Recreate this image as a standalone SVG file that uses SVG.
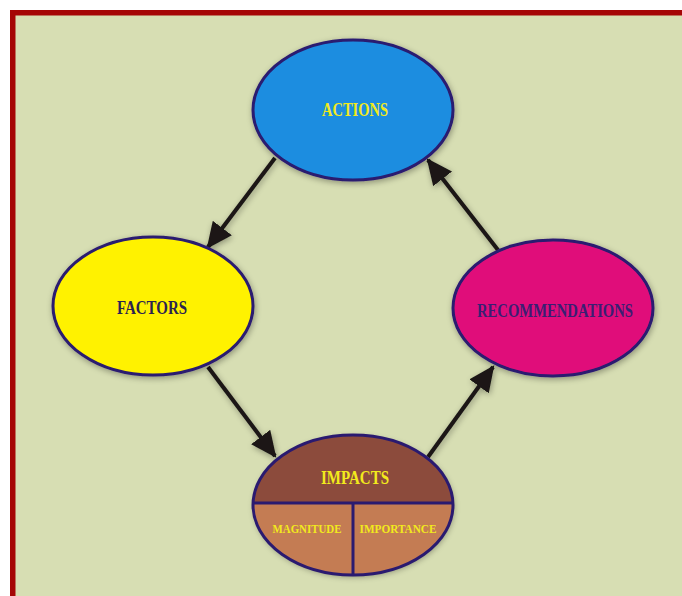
<svg xmlns="http://www.w3.org/2000/svg" width="682" height="596" viewBox="0 0 682 596">
<style>
.node{stroke:#2a1a70;stroke-width:3}
.lbl{font-family:"Liberation Serif","DejaVu Serif",serif;font-weight:bold;text-anchor:middle;dominant-baseline:central}
.conn{stroke:#1a1614;stroke-width:4;fill:none;marker-end:url(#ah)}
</style>
<defs>
<marker id="ah" markerUnits="userSpaceOnUse" markerWidth="26" markerHeight="24" refX="22" refY="11" orient="auto" viewBox="0 0 24 22">
<path d="M0,0 L24,11 L0,22 Z" fill="#1a1614"/>
</marker>
<filter id="sh" x="-20%" y="-20%" width="140%" height="140%">
<feGaussianBlur in="SourceAlpha" stdDeviation="3"/>
<feOffset dx="1" dy="2"/>
<feComponentTransfer><feFuncA type="linear" slope="0.35"/></feComponentTransfer>
<feMerge><feMergeNode/><feMergeNode in="SourceGraphic"/></feMerge>
</filter>
<clipPath id="impClip"><ellipse cx="353" cy="505" rx="100" ry="70"/></clipPath>
</defs>
<rect x="0" y="0" width="682" height="596" fill="#ffffff"/>
<rect x="10" y="10" width="680" height="600" fill="#a50606"/>
<rect x="15.5" y="15.5" width="680" height="600" fill="#d7deb3"/>

<g id="connectors" filter="url(#sh)">
<line class="conn" x1="275" y1="158" x2="208" y2="247"/>
<line class="conn" x1="208" y1="367" x2="275" y2="456"/>
<line class="conn" x1="428" y1="457" x2="493" y2="367"/>
<line class="conn" x1="498" y1="250" x2="428" y2="160"/>
</g>

<g id="actions">
<ellipse class="node" cx="353" cy="110" rx="100" ry="70" fill="#1a8de0" filter="url(#sh)"/>
<text class="lbl" x="355" y="110" font-size="18" fill="#f2ea1c" textLength="66" lengthAdjust="spacingAndGlyphs">ACTIONS</text>
</g>

<g id="factors">
<ellipse class="node" cx="153" cy="306" rx="100" ry="69" fill="#fff200" filter="url(#sh)"/>
<text class="lbl" x="152" y="307" font-size="19" fill="#2b2350" textLength="70" lengthAdjust="spacingAndGlyphs">FACTORS</text>
</g>

<g id="recommendations">
<ellipse class="node" cx="553" cy="308" rx="100" ry="68" fill="#e0117a" filter="url(#sh)"/>
<text class="lbl" x="555" y="310" font-size="19" fill="#3a1f72" textLength="156" lengthAdjust="spacingAndGlyphs">RECOMMENDATIONS</text>
</g>

<g id="impacts">
<ellipse cx="353" cy="505" rx="100" ry="70" fill="#c47c52" filter="url(#sh)"/>
<g clip-path="url(#impClip)">
<rect x="250" y="430" width="210" height="73" fill="#8c4b3c"/>
<line x1="250" y1="503" x2="460" y2="503" stroke="#2a1a70" stroke-width="3"/>
<line x1="353" y1="503" x2="353" y2="580" stroke="#2a1a70" stroke-width="3"/>
</g>
<ellipse class="node" cx="353" cy="505" rx="100" ry="70" fill="none"/>
<text class="lbl" x="355" y="477" font-size="19" fill="#f2ea1c" textLength="68" lengthAdjust="spacingAndGlyphs">IMPACTS</text>
<text class="lbl" x="307" y="529" font-size="12" fill="#f2ea1c" textLength="69" lengthAdjust="spacingAndGlyphs">MAGNITUDE</text>
<text class="lbl" x="398" y="529" font-size="12" fill="#f2ea1c" textLength="77" lengthAdjust="spacingAndGlyphs">IMPORTANCE</text>
</g>
</svg>
